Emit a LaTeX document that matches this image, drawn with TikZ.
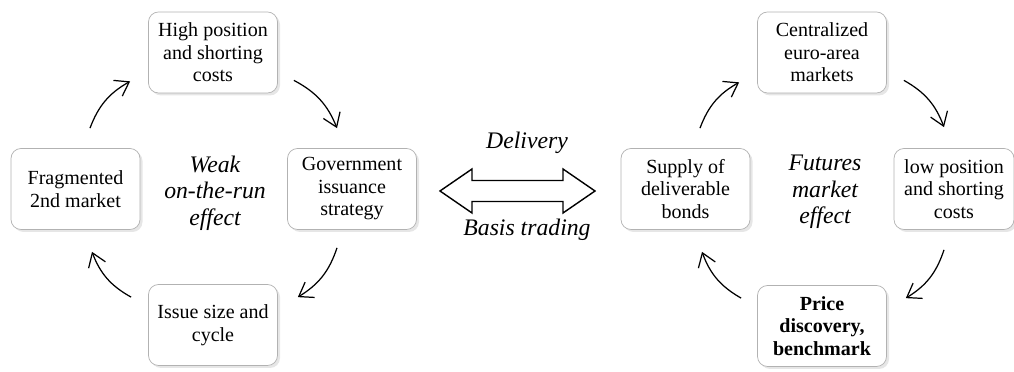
\documentclass[tikz,border=0pt]{standalone}
\usepackage{fontspec}
\setmainfont{Liberation Serif}
\usetikzlibrary{arrows.meta,shadows}
\tikzset{
  box/.style={draw=gray!60,fill=white,rounded corners=2mm,align=center,
    minimum width=2.58cm,minimum height=1.62cm,inner sep=0.5mm,
    font=\fontsize{11.4}{12.8}\selectfont,
    drop shadow={opacity=0.2,shadow xshift=0.5mm,shadow yshift=-0.5mm}},
  effect/.style={align=center,font=\fontsize{13.5}{15}\selectfont\itshape},
  cyc/.style={line width=0.7pt,-{Straight Barb[length=2.6mm,width=3.6mm]},bend left=20},
}
\begin{document}
\begin{tikzpicture}[x=0.2mm,y=0.2mm]
\useasboundingbox (0,0) rectangle (1014,372);
 \begin{scope}
\node[box] (high) at (213,319.5) {High position\\and shorting\\costs};
\node[box] (frag) at (75.5,183) {Fragmented\\2nd market};
\node[box] (gov) at (352,183) {Government\\issuance\\strategy};
\node[box] (issue) at (213,47) {Issue size and\\cycle};
\node[effect] (weak) at (215,179) {Weak\\on-the-run\\effect};
\draw[cyc] ([shift={(14.5,20)}]frag.north) to ([shift={(-18,12)}]high.south west);
\draw[cyc] ([shift={(16,13)}]high.south east) to ([shift={(-15,20)}]gov.north);
\draw[cyc] ([shift={(-15,-18)}]gov.south) to ([shift={(20,-13)}]issue.north east);
\draw[cyc] ([shift={(-17,-13)}]issue.north west) to ([shift={(16.5,-22)}]frag.south);
 \end{scope}
 \begin{scope}
\draw[line width=0.8pt,line join=miter] (440,181) -- (472,203) -- (472,191.5) -- (563,191.5)
  -- (563,203) -- (595,181) -- (563,159) -- (563,170.5) -- (472,170.5) -- (472,159) -- cycle;
\node[effect] (delivery) at (527,229) {Delivery};
\node[effect] (basis) at (527,142) {Basis trading};
 \end{scope}
 \begin{scope}
\node[box] (central) at (822,319.5) {Centralized\\euro-area\\markets};
\node[box] (supply) at (685.5,183) {Supply of\\deliverable\\bonds};
\node[box,minimum width=2.4cm] (lowpos) at (954,183) {low position\\and shorting\\costs};
\node[box,font=\fontsize{11.4}{12.8}\selectfont\bfseries] (price) at (822,46) {Price\\discovery,\\benchmark};
\node[effect] (futures) at (825,180) {Futures\\market\\effect};
\draw[cyc] ([shift={(14.5,20)}]supply.north) to ([shift={(-18,11)}]central.south west);
\draw[cyc] ([shift={(17,13)}]central.south east) to ([shift={(-10,21)}]lowpos.north);
\draw[cyc] ([shift={(-10,-20)}]lowpos.south) to ([shift={(19,-13)}]price.north east);
\draw[cyc] ([shift={(-16,-13)}]price.north west) to ([shift={(16.5,-22)}]supply.south);
 \end{scope}
\end{tikzpicture}
\end{document}
